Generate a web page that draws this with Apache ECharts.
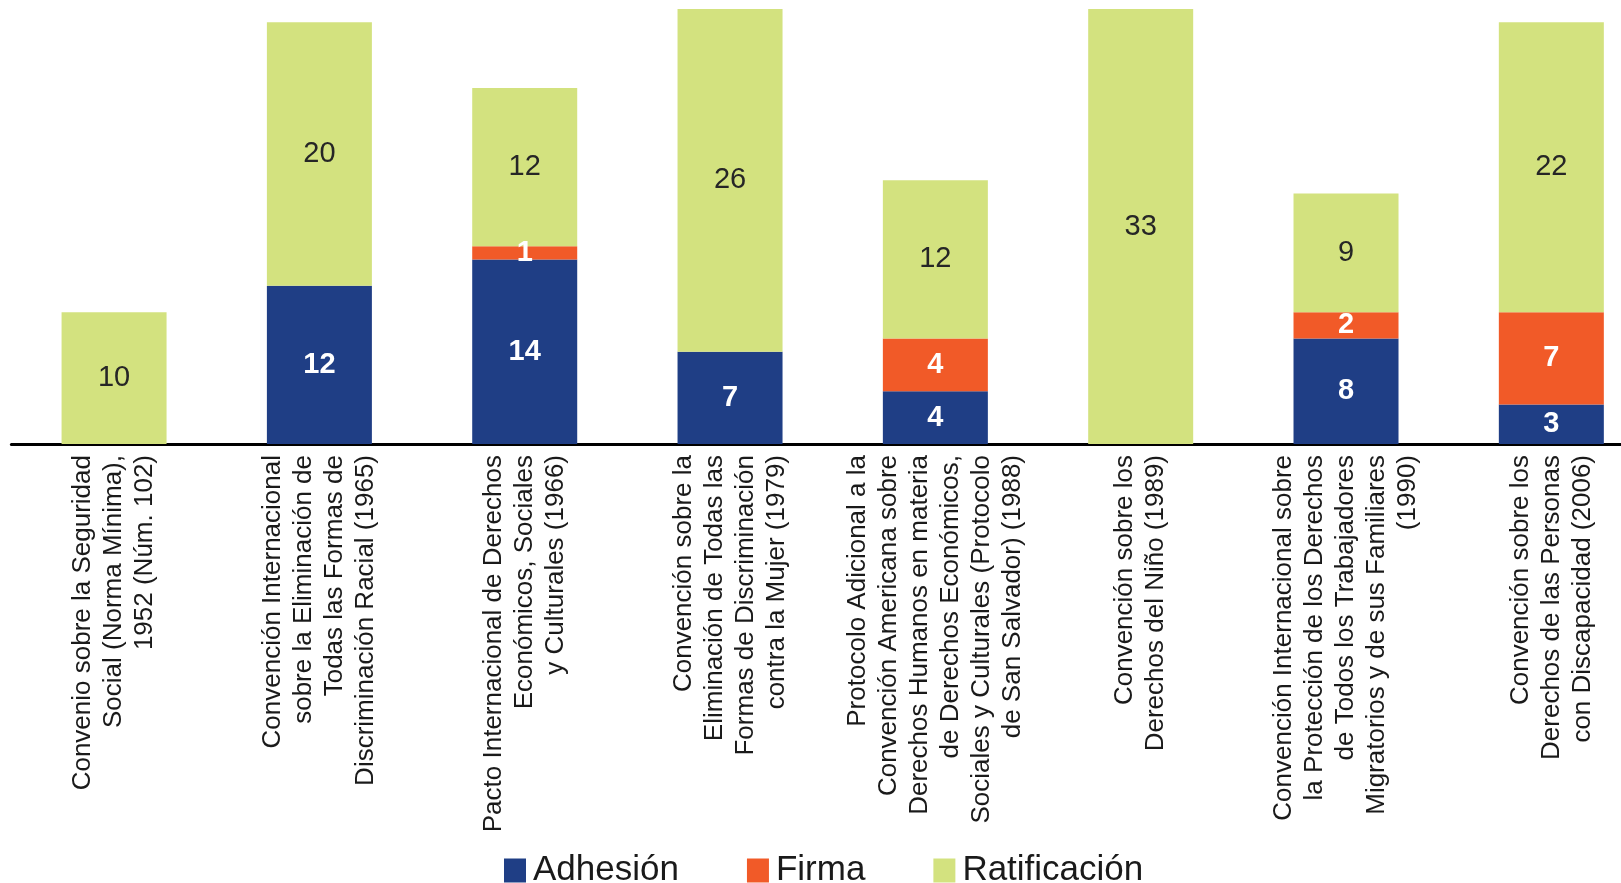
<!DOCTYPE html>
<html>
<head>
<meta charset="utf-8">
<script src="https://cdn.jsdelivr.net/npm/echarts@6/dist/echarts.min.js"></script>
<style>
html, body { margin: 0; padding: 0; background: #fff; overflow: hidden; }
/* el gráfico original está recortado a la derecha: el lienzo es más ancho que la ventana */
#H_Chart { width: 1654px; height: 883px; }
</style>
</head>
<body>
<div id="H_Chart"></div>
<script>
//categorías (eje x)
var categories = [
    "Convenio sobre la Seguridad\nSocial (Norma Mínima),\n1952 (Núm. 102)",
    "Convención Internacional\nsobre la Eliminación de\nTodas las Formas de\nDiscriminación Racial (1965)",
    "Pacto Internacional de Derechos\nEconómicos, Sociales\ny Culturales (1966)",
    "Convención sobre la\nEliminación de Todas las\nFormas de Discriminación\ncontra la Mujer (1979)",
    "Protocolo Adicional a la\nConvención Americana sobre\nDerechos Humanos en materia\nde Derechos Económicos,\nSociales y Culturales (Protocolo\nde San Salvador) (1988)",
    "Convención sobre los\nDerechos del Niño (1989)",
    "Convención Internacional sobre\nla Protección de los Derechos\nde Todos los Trabajadores\nMigratorios y de sus Familiares\n(1990)",
    "Convención sobre los\nDerechos de las Personas\ncon Discapacidad (2006)"
];
//series
var seriesNames = ["Adhesión", "Firma", "Ratificación"];
var adhesion = [0, 12, 14, 7, 4, 0, 8, 3];
var firma = [0, 0, 1, 0, 4, 0, 2, 7];
var ratificacion = [10, 20, 12, 26, 12, 33, 9, 22];
//colores
var seriesColors = ["#1f3e85", "#f15a28", "#d3e27f"];
var labelColors = ["#fff", "#fff", "#262626"];
var labelWeights = ["bold", "bold", "normal"];

var FONT = "'Liberation Sans', Arial, sans-serif";

function MakeSeries(i, data) {
    return {
        name: seriesNames[i],
        type: 'bar',
        stack: 'total',
        barWidth: 105,
        itemStyle: {color: seriesColors[i]},
        label: {
            show: true,
            position: 'inside',
            fontFamily: FONT,
            fontSize: 29,
            fontWeight: labelWeights[i],
            color: labelColors[i],
            formatter: function (p) { return p.value ? String(p.value) : ''; }
        },
        emphasis: {disabled: true},
        data: data
    };
}

var Chart = echarts.init(document.getElementById('H_Chart'));
Chart.setOption({
    animation: false,
    textStyle: {fontFamily: FONT},
    grid: {left: 11.4, right: 0, top: 9, bottom: 439},
    legend: {
        data: seriesNames,
        left: 499,
        top: 848,
        itemWidth: 22,
        itemHeight: 24,
        itemGap: 68,
        icon: 'rect',
        textStyle: {fontFamily: FONT, fontSize: 35, color: '#1a1a1a', padding: [0, 0, 0, 2]}
    },
    xAxis: {
        type: 'category',
        data: categories,
        axisLine: {lineStyle: {color: '#000', width: 3}},
        axisTick: {show: false},
        axisLabel: {
            interval: 0,
            rotate: 90,
            margin: 11,
            fontFamily: FONT,
            fontSize: 26,
            lineHeight: 31,
            color: '#1a1a1a'
        }
    },
    yAxis: {
        type: 'value',
        min: 0,
        max: 33,
        show: false,
        splitLine: {show: false}
    },
    series: [
        MakeSeries(0, adhesion),
        MakeSeries(1, firma),
        MakeSeries(2, ratificacion)
    ]
});
</script>
</body>
</html>
